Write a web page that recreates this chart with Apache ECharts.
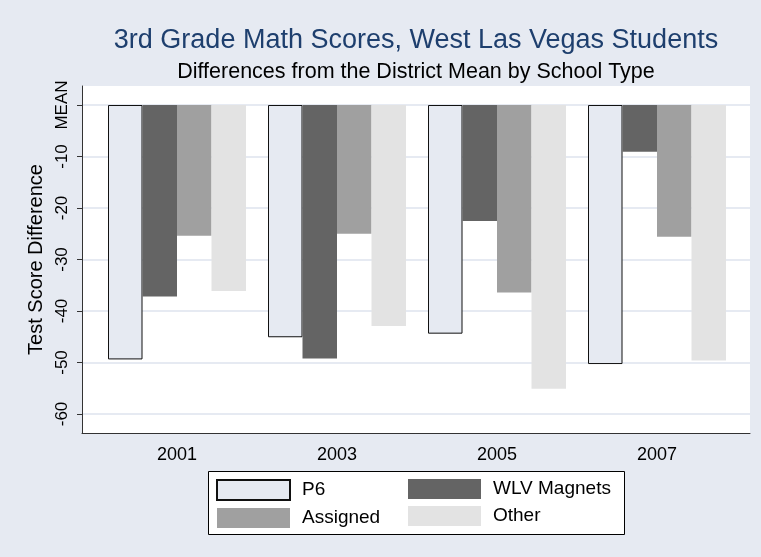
<!DOCTYPE html>
<html>
<head>
<meta charset="utf-8">
<script src="https://cdn.jsdelivr.net/npm/echarts@6/dist/echarts.min.js"></script>
<style>
html,body{margin:0;padding:0;background:#E6EAF2;}
#chart{width:761px;height:557px;}
</style>
</head>
<body>
<div id="chart"></div>
<script>
const categories = ['2001', '2003', '2005', '2007'];
const seriesNames = ['P6', 'WLV Magnets', 'Assigned', 'Other'];
const p6 = [-49.4, -45.1, -44.4, -50.3];
const wlvMagnets = [-37.2, -49.2, -22.5, -9.1];
const assigned = [-25.4, -25.0, -36.4, -25.6];
const other = [-36.1, -42.9, -55.1, -49.6];
const yTickValues = [-60, -50, -40, -30, -20, -10, 0];
const yTickLabels = ['-60', '-50', '-40', '-30', '-20', '-10', 'MEAN'];

const FONT = 'Liberation Sans, Arial, sans-serif';
const BG = '#E6EAF2';
const colors = {
  'P6': BG,
  'WLV Magnets': '#646464',
  'Assigned': '#A0A0A0',
  'Other': '#E3E3E3'
};

const chart = echarts.init(document.getElementById('chart'), null, {renderer: 'canvas'});

function labelFor(v) {
  const i = yTickValues.indexOf(Math.round(v));
  return i >= 0 ? yTickLabels[i] : '';
}

const dataSets = [p6, wlvMagnets, assigned, other];

const option = {
  backgroundColor: BG,
  animation: false,
  title: [
    {
      text: '3rd Grade Math Scores, West Las Vegas Students',
      left: 416, top: 27, textAlign: 'center', padding: 0,
      textStyle: {fontFamily: FONT, fontSize: 27, fontWeight: 'normal', color: '#1E3F6E'}
    },
    {
      text: 'Differences from the District Mean by School Type',
      left: 416, top: 61, textAlign: 'center', padding: 0,
      textStyle: {fontFamily: FONT, fontSize: 21.5, fontWeight: 'normal', color: '#000'}
    }
  ],
  grid: [
    {left: 82, right: 11, top: 86, bottom: 124, show: true, backgroundColor: '#fff', borderWidth: 0},
    {left: 82, right: 11, top: 105, height: 309, show: false},
    {left: 97, width: 640, top: 105, height: 309, show: false}
  ],
  xAxis: [
    {gridIndex: 0, type: 'category', data: categories,
     axisLine: {show: true, onZero: false, lineStyle: {color: '#333', width: 1}},
     axisTick: {show: false}, axisLabel: {show: false}, splitLine: {show: false}},
    {gridIndex: 1, type: 'category', data: categories, show: false},
    {gridIndex: 2, type: 'category', data: categories, axisLine: {show: false}, axisTick: {show: false},
     axisLabel: {show: true, margin: 32, fontFamily: FONT, fontSize: 18, color: '#000'}}
  ],
  yAxis: [
    {gridIndex: 0, type: 'value', min: -63.7, max: 3.7, axisLine: {show: true, lineStyle: {color: '#333', width: 1}},
     axisTick: {show: false}, axisLabel: {show: false}, splitLine: {show: false}},
    {gridIndex: 1, type: 'value', min: -60, max: 0, interval: 10,
     axisLine: {show: false},
     axisTick: {show: true, length: 5, lineStyle: {color: '#333'}},
     axisLabel: {show: true, rotate: 90, margin: 11, fontFamily: FONT, fontSize: 17, color: '#000', formatter: labelFor},
     splitLine: {show: true, lineStyle: {color: BG, width: 2}},
     name: 'Test Score Difference', nameLocation: 'middle', nameGap: 31, nameRotate: 90,
     nameTextStyle: {fontFamily: FONT, fontSize: 20, color: '#000'}},
    {gridIndex: 2, type: 'value', min: -60, max: 0, show: false}
  ],
  legend: [
    {data: ['P6', 'Assigned'], orient: 'vertical', left: 216, top: 479, padding: 0, itemGap: 7,
     itemWidth: 73, itemHeight: 20, icon: 'rect',
     textStyle: {fontFamily: FONT, fontSize: 19, color: '#000', padding: [0, 0, 0, 7]}},
    {data: ['WLV Magnets', 'Other'], orient: 'vertical', left: 408, top: 479, padding: 0, itemGap: 7,
     itemWidth: 73, itemHeight: 20, icon: 'rect',
     textStyle: {fontFamily: FONT, fontSize: 19, color: '#000', padding: [0, 0, 0, 7]}}
  ],
  graphic: [
    {type: 'rect', shape: {x: 208.5, y: 471.5, width: 416, height: 63}, z: -1,
     style: {fill: '#fff', stroke: '#000', lineWidth: 1}}
  ],
  series: seriesNames.map((name, i) => ({
    name: name,
    type: 'bar',
    xAxisIndex: 2,
    yAxisIndex: 2,
    data: dataSets[i],
    barWidth: 34.5,
    barGap: '0%',
    itemStyle: name === 'P6'
      ? {color: colors[name], borderColor: '#111', borderWidth: 1}
      : {color: colors[name], borderWidth: 0}
  }))
};

chart.setOption(option);
</script>
</body>
</html>
